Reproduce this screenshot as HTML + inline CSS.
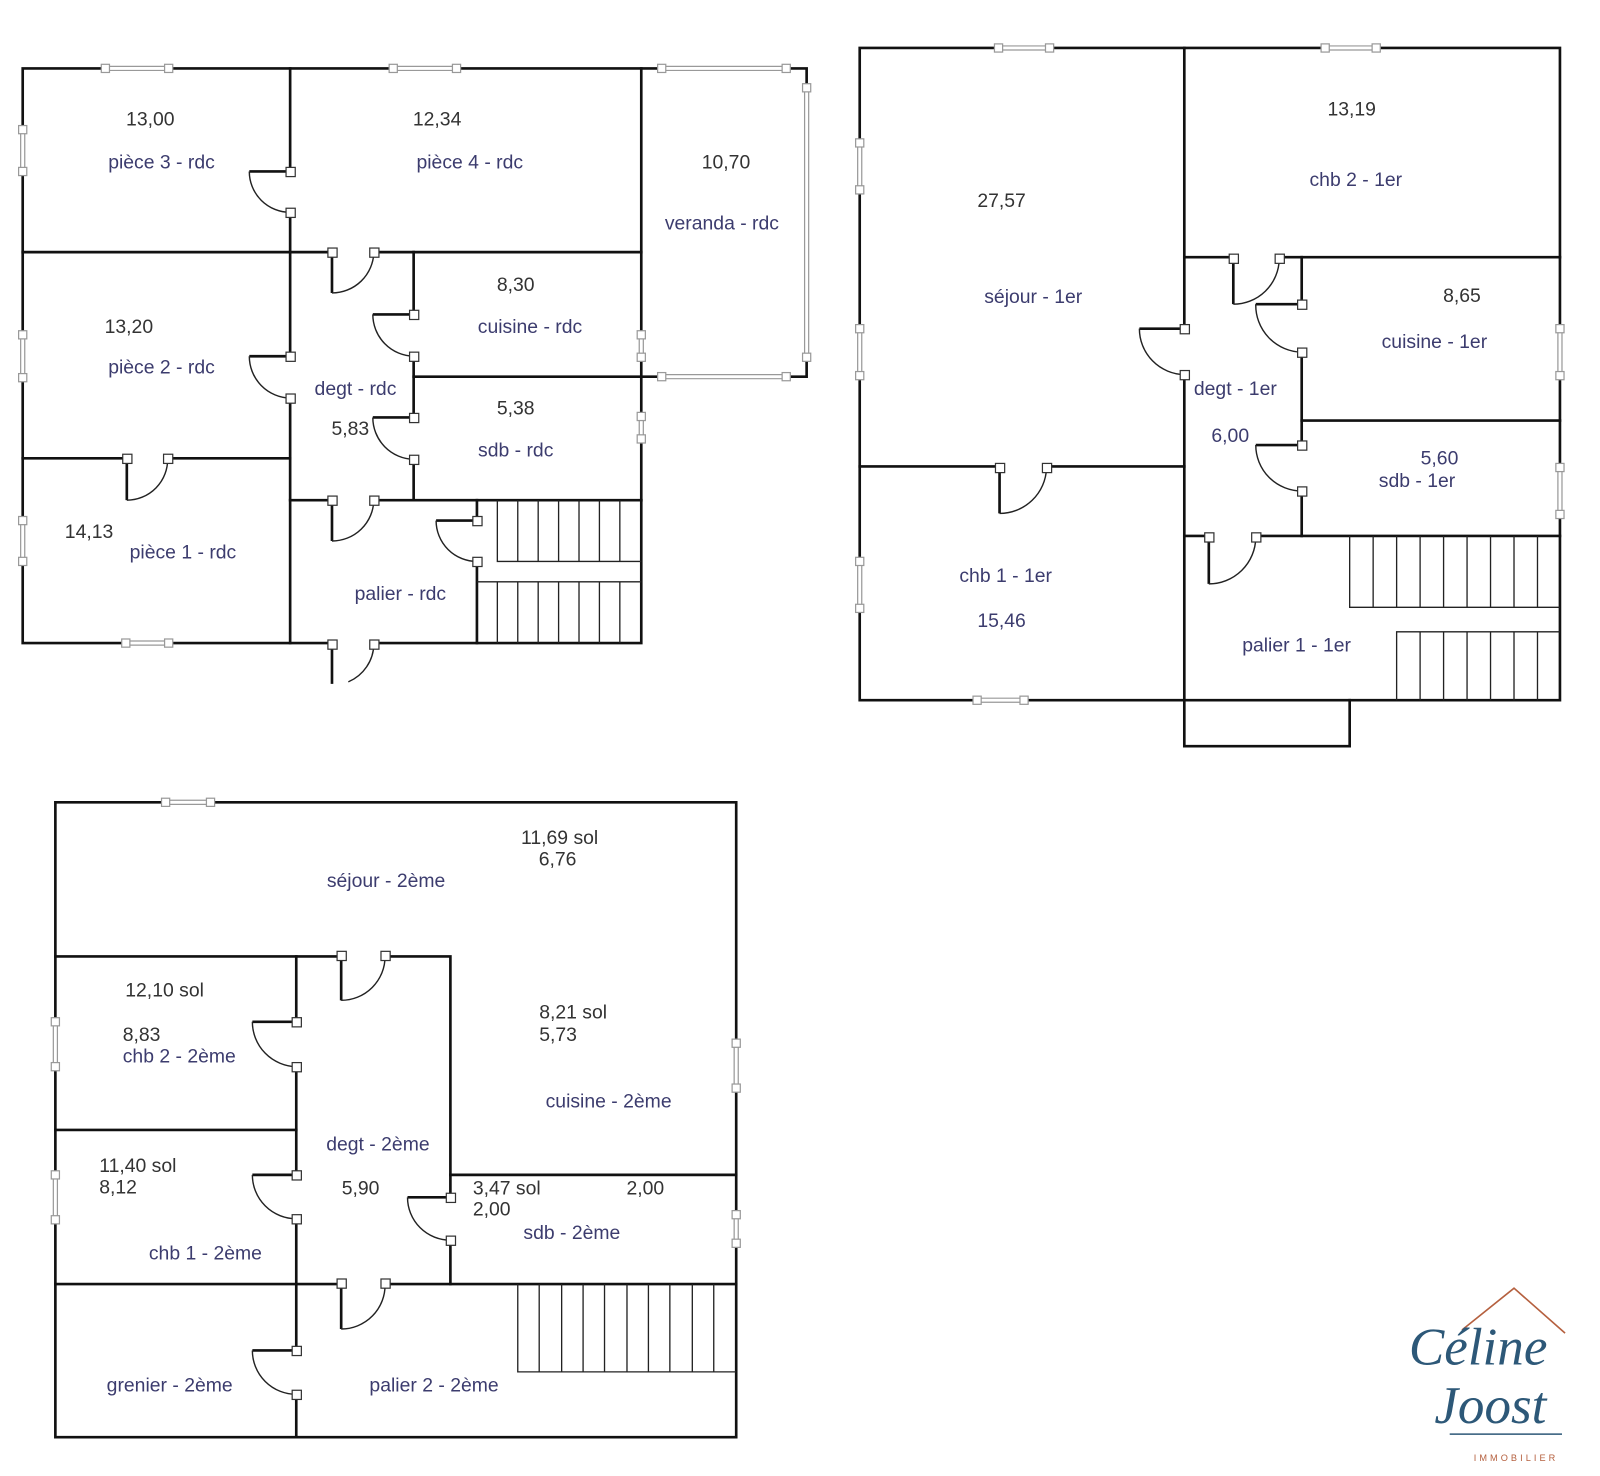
<!DOCTYPE html>
<html><head><meta charset="utf-8"><style>
html,body{margin:0;padding:0;background:#fff}
svg{display:block}
.w{stroke:#111;stroke-width:2.6;fill:none;stroke-linecap:square}
.d{stroke:#222;stroke-width:1.4;fill:none}
.dl{stroke:#111;stroke-width:2.6;fill:none}
.sq{fill:#fff;stroke:#333;stroke-width:1.2}
.win{stroke:#999;stroke-width:1.2;fill:none}
.wsq{fill:#fff;stroke:#999;stroke-width:1.2}
.st{stroke:#222;stroke-width:1.3;fill:none}
text{font-family:"Liberation Sans",sans-serif;font-size:19px;dominant-baseline:middle}
.l{fill:#3c3c6e;text-anchor:middle}
.n{fill:#333;text-anchor:middle}
.ll{fill:#3c3c6e}
.nl{fill:#333}
</style></head><body>
<svg width="1600" height="1476" viewBox="0 0 1567 1446" xmlns="http://www.w3.org/2000/svg">
<!-- ================= RDC ================= -->
<g>
<path class="w" d="M22 67H103M165 67H385M447 67H648M770 67H790V86M790 350V369H770M648 369H405M22 67V127M22 168V328M22 370V510M22 550V630H123M165 630H325M366 630H628V490"/>
<path class="w" d="M628 67V328M628 350V408M628 430V490"/>
<path class="w" d="M284 67V168M284 208V349M284 390V630"/>
<path class="w" d="M22 247H325M366 247H628"/>
<path class="w" d="M22 449H124M164 449H284"/>
<path class="w" d="M405 247V308M405 349V409M405 450V490"/>
<path class="w" d="M284 490H325M366 490H628"/>
<path class="w" d="M467 490V510M467 550V630"/>
<path class="st" d="M487 490V550H628M467 570H628M507 490V550M527 490V550M547 490V550M567 490V550M587 490V550M607 490V550M487 570V630M507 570V630M527 570V630M547 570V630M567 570V630M587 570V630M607 570V630"/>
<path class="dl" d="M284 168H244M325 247V287M405 308H365M284 349H244M405 409H365M124 449V490M325 490V530M467 510H427M325 631V670"/>
<path class="d" d="M244 168A40 40 0 0 0 284 208M325 287A41 41 0 0 0 366 247M365 308A41 41 0 0 0 405 349M244 349A41 41 0 0 0 284 390M365 409A41 41 0 0 0 405 450M124 490A40 40 0 0 0 164 449M325 530A41 41 0 0 0 366 490M427 510A40 40 0 0 0 467 550M341 668A41 41 0 0 0 366 631"/>
<g class="sq">
<rect x="280" y="164" width="9" height="9"/><rect x="280" y="204" width="9" height="9"/>
<rect x="321" y="243" width="9" height="9"/><rect x="362" y="243" width="9" height="9"/>
<rect x="401" y="304" width="9" height="9"/><rect x="401" y="345" width="9" height="9"/>
<rect x="280" y="345" width="9" height="9"/><rect x="280" y="386" width="9" height="9"/>
<rect x="401" y="405" width="9" height="9"/><rect x="401" y="446" width="9" height="9"/>
<rect x="120" y="445" width="9" height="9"/><rect x="160" y="445" width="9" height="9"/>
<rect x="321" y="486" width="9" height="9"/><rect x="362" y="486" width="9" height="9"/>
<rect x="463" y="506" width="9" height="9"/><rect x="463" y="546" width="9" height="9"/>
<rect x="321" y="627" width="9" height="9"/><rect x="362" y="627" width="9" height="9"/>
</g>
<path class="win" d="M103 65H165M103 69H165M385 65H447M385 69H447M648 65H770M648 69H770M788 86V350M792 86V350M648 367H770M648 371H770M20 127V168M24 127V168M20 328V370M24 328V370M20 510V550M24 510V550M123 628H165M123 632H165M626 328V350M630 328V350M626 408V430M630 408V430"/>
<g class="wsq">
<rect x="99" y="63" width="8" height="8"/><rect x="161" y="63" width="8" height="8"/>
<rect x="381" y="63" width="8" height="8"/><rect x="443" y="63" width="8" height="8"/>
<rect x="644" y="63" width="8" height="8"/><rect x="766" y="63" width="8" height="8"/>
<rect x="786" y="82" width="8" height="8"/><rect x="786" y="346" width="8" height="8"/>
<rect x="644" y="365" width="8" height="8"/><rect x="766" y="365" width="8" height="8"/>
<rect x="18" y="123" width="8" height="8"/><rect x="18" y="164" width="8" height="8"/>
<rect x="18" y="324" width="8" height="8"/><rect x="18" y="366" width="8" height="8"/>
<rect x="18" y="506" width="8" height="8"/><rect x="18" y="546" width="8" height="8"/>
<rect x="119" y="626" width="8" height="8"/><rect x="161" y="626" width="8" height="8"/>
<rect x="624" y="324" width="8" height="8"/><rect x="624" y="346" width="8" height="8"/>
<rect x="624" y="404" width="8" height="8"/><rect x="624" y="426" width="8" height="8"/>
</g>
<text class="n" x="147" y="118">13,00</text><text class="l" x="158" y="160">pièce 3 - rdc</text>
<text class="n" x="428" y="118">12,34</text><text class="l" x="460" y="160">pièce 4 - rdc</text>
<text class="n" x="711" y="160">10,70</text><text class="l" x="707" y="220">veranda - rdc</text>
<text class="n" x="505" y="280">8,30</text><text class="l" x="519" y="321">cuisine - rdc</text>
<text class="n" x="126" y="321">13,20</text><text class="l" x="158" y="361">pièce 2 - rdc</text>
<text class="l" x="348" y="382">degt - rdc</text><text class="n" x="343" y="421">5,83</text>
<text class="n" x="505" y="401">5,38</text><text class="l" x="505" y="442">sdb - rdc</text>
<text class="n" x="87" y="522">14,13</text><text class="l" x="179" y="542">pièce 1 - rdc</text>
<text class="l" x="392" y="583">palier - rdc</text>
</g>

<!-- ================= 1er ================= -->
<g>
<path class="w" d="M842 47H978M1028 47H1298M1348 47H1528V322M1528 368V458M1528 504V686H1160M1003 686H1160M957 686H842V596M842 550V368M842 322V186M842 140V47"/>
<path class="w" d="M1160 47V322M1160 367V731H1322V686"/>
<path class="w" d="M842 457H979M1025 457H1160"/>
<path class="w" d="M1160 252H1208M1253 252H1528"/>
<path class="w" d="M1275 252V298M1275 345V436M1275 481V525"/>
<path class="w" d="M1275 412H1528"/>
<path class="w" d="M1160 525H1184M1230 525H1528"/>
<path class="st" d="M1322 525V595H1528M1345 525V595M1368 525V595M1391 525V595M1414 525V595M1437 525V595M1460 525V595M1483 525V595M1506 525V595M1368 686V619H1528M1391 619V686M1414 619V686M1437 619V686M1460 619V686M1483 619V686M1506 619V686"/>
<path class="dl" d="M1208 254V298M1275 298H1230M1160 322H1116M1275 436H1230M979 459V503M1184 527V572"/>
<path class="d" d="M1208 298A45 45 0 0 0 1253 254M1230 298A46 46 0 0 0 1275 345M1116 322A45 45 0 0 0 1160 367M1230 436A45 45 0 0 0 1275 481M979 503A46 46 0 0 0 1025 459M1184 572A46 46 0 0 0 1230 527"/>
<g class="sq">
<rect x="1204" y="249" width="9" height="9"/><rect x="1249" y="249" width="9" height="9"/>
<rect x="1271" y="294" width="9" height="9"/><rect x="1271" y="341" width="9" height="9"/>
<rect x="1156" y="318" width="9" height="9"/><rect x="1156" y="363" width="9" height="9"/>
<rect x="1271" y="432" width="9" height="9"/><rect x="1271" y="477" width="9" height="9"/>
<rect x="975" y="454" width="9" height="9"/><rect x="1021" y="454" width="9" height="9"/>
<rect x="1180" y="522" width="9" height="9"/><rect x="1226" y="522" width="9" height="9"/>
</g>
<path class="win" d="M978 45H1028M978 49H1028M1298 45H1348M1298 49H1348M840 140V186M844 140V186M840 322V368M844 322V368M840 550V596M844 550V596M957 684H1003M957 688H1003M1526 322V368M1530 322V368M1526 458V504M1530 458V504"/>
<g class="wsq">
<rect x="974" y="43" width="8" height="8"/><rect x="1024" y="43" width="8" height="8"/>
<rect x="1294" y="43" width="8" height="8"/><rect x="1344" y="43" width="8" height="8"/>
<rect x="838" y="136" width="8" height="8"/><rect x="838" y="182" width="8" height="8"/>
<rect x="838" y="318" width="8" height="8"/><rect x="838" y="364" width="8" height="8"/>
<rect x="838" y="546" width="8" height="8"/><rect x="838" y="592" width="8" height="8"/>
<rect x="953" y="682" width="8" height="8"/><rect x="999" y="682" width="8" height="8"/>
<rect x="1524" y="318" width="8" height="8"/><rect x="1524" y="364" width="8" height="8"/>
<rect x="1524" y="454" width="8" height="8"/><rect x="1524" y="500" width="8" height="8"/>
</g>
<text class="n" x="1324" y="108">13,19</text><text class="l" x="1328" y="177">chb 2 - 1er</text>
<text class="n" x="981" y="198">27,57</text><text class="l" x="1012" y="292">séjour - 1er</text>
<text class="n" x="1432" y="291">8,65</text><text class="l" x="1405" y="336">cuisine - 1er</text>
<text class="l" x="1210" y="382">degt - 1er</text><text class="l" x="1205" y="428">6,00</text>
<text class="l" x="1410" y="450">5,60</text><text class="l" x="1388" y="472">sdb - 1er</text>
<text class="l" x="985" y="565">chb 1 - 1er</text><text class="l" x="981" y="609">15,46</text>
<text class="l" x="1270" y="633">palier 1 - 1er</text>
</g>

<!-- ================= 2eme ================= -->
<g>
<path class="w" d="M54 786H162M206 786H721V1022M721 1066V1190M721 1218V1408H54V1195M54 1151V1045M54 1001V786"/>
<path class="w" d="M54 937H334M377 937H441V1173M441 1215V1258"/>
<path class="w" d="M290 937V1001M290 1045V1151M290 1194V1323M290 1366V1408"/>
<path class="w" d="M54 1107H290"/>
<path class="w" d="M441 1151H721"/>
<path class="w" d="M54 1258H334M377 1258H721"/>
<path class="st" d="M507 1258V1344H721M528 1258V1344M550 1258V1344M571 1258V1344M592 1258V1344M614 1258V1344M635 1258V1344M656 1258V1344M678 1258V1344M699 1258V1344"/>
<path class="dl" d="M334 937V980M290 1001H247M290 1151H247M441 1173H399M334 1258V1302M290 1323H247"/>
<path class="d" d="M334 980A43 43 0 0 0 377 937M247 1001A44 44 0 0 0 290 1045M247 1151A43 43 0 0 0 290 1194M399 1173A42 42 0 0 0 441 1215M334 1302A43 43 0 0 0 377 1258M247 1323A43 43 0 0 0 290 1366"/>
<g class="sq">
<rect x="330" y="932" width="9" height="9"/><rect x="373" y="932" width="9" height="9"/>
<rect x="286" y="997" width="9" height="9"/><rect x="286" y="1041" width="9" height="9"/>
<rect x="286" y="1147" width="9" height="9"/><rect x="286" y="1190" width="9" height="9"/>
<rect x="437" y="1169" width="9" height="9"/><rect x="437" y="1211" width="9" height="9"/>
<rect x="330" y="1253" width="9" height="9"/><rect x="373" y="1253" width="9" height="9"/>
<rect x="286" y="1319" width="9" height="9"/><rect x="286" y="1362" width="9" height="9"/>
</g>
<path class="win" d="M162 784H206M162 788H206M52 1001V1045M56 1001V1045M52 1151V1195M56 1151V1195M719 1022V1066M723 1022V1066M719 1190V1218M723 1190V1218"/>
<g class="wsq">
<rect x="158" y="782" width="8" height="8"/><rect x="202" y="782" width="8" height="8"/>
<rect x="50" y="997" width="8" height="8"/><rect x="50" y="1041" width="8" height="8"/>
<rect x="50" y="1147" width="8" height="8"/><rect x="50" y="1191" width="8" height="8"/>
<rect x="717" y="1018" width="8" height="8"/><rect x="717" y="1062" width="8" height="8"/>
<rect x="717" y="1186" width="8" height="8"/><rect x="717" y="1214" width="8" height="8"/>
</g>
<text class="n" x="548" y="822">11,69 sol</text><text class="n" x="546" y="843">6,76</text>
<text class="l" x="378" y="864">séjour - 2ème</text>
<text class="n" x="161" y="971">12,10 sol</text>
<text class="nl" x="120" y="1015">8,83</text><text class="ll" x="120" y="1036">chb 2 - 2ème</text>
<text class="nl" x="528" y="993">8,21 sol</text><text class="nl" x="528" y="1015">5,73</text>
<text class="l" x="596" y="1080">cuisine - 2ème</text>
<text class="l" x="370" y="1122">degt - 2ème</text>
<text class="nl" x="97" y="1143">11,40 sol</text><text class="nl" x="97" y="1164">8,12</text>
<text class="n" x="353" y="1165">5,90</text>
<text class="nl" x="463" y="1165">3,47 sol</text><text class="nl" x="463" y="1186">2,00</text>
<text class="n" x="632" y="1165">2,00</text>
<text class="l" x="560" y="1209">sdb - 2ème</text>
<text class="l" x="201" y="1229">chb 1 - 2ème</text>
<text class="l" x="166" y="1358">grenier - 2ème</text>
<text class="l" x="425" y="1358">palier 2 - 2ème</text>
</g>

<!-- logo -->
<g>
<path d="M1432 1303L1483 1262L1533 1306" stroke="#b5603f" stroke-width="1.6" fill="none"/>
<text x="1380" y="1325" style="font-family:'Liberation Serif',serif;font-style:italic;font-size:52px;fill:#2d5878">Céline</text>
<text x="1405" y="1382" style="font-family:'Liberation Serif',serif;font-style:italic;font-size:52px;fill:#2d5878">Joost</text>
<path d="M1420 1405H1530" stroke="#2d5878" stroke-width="1.5"/>
<text x="1485" y="1429" style="font-size:9px;letter-spacing:3px;fill:#b5603f;text-anchor:middle">IMMOBILIER</text>
</g>
</svg>
</body></html>
